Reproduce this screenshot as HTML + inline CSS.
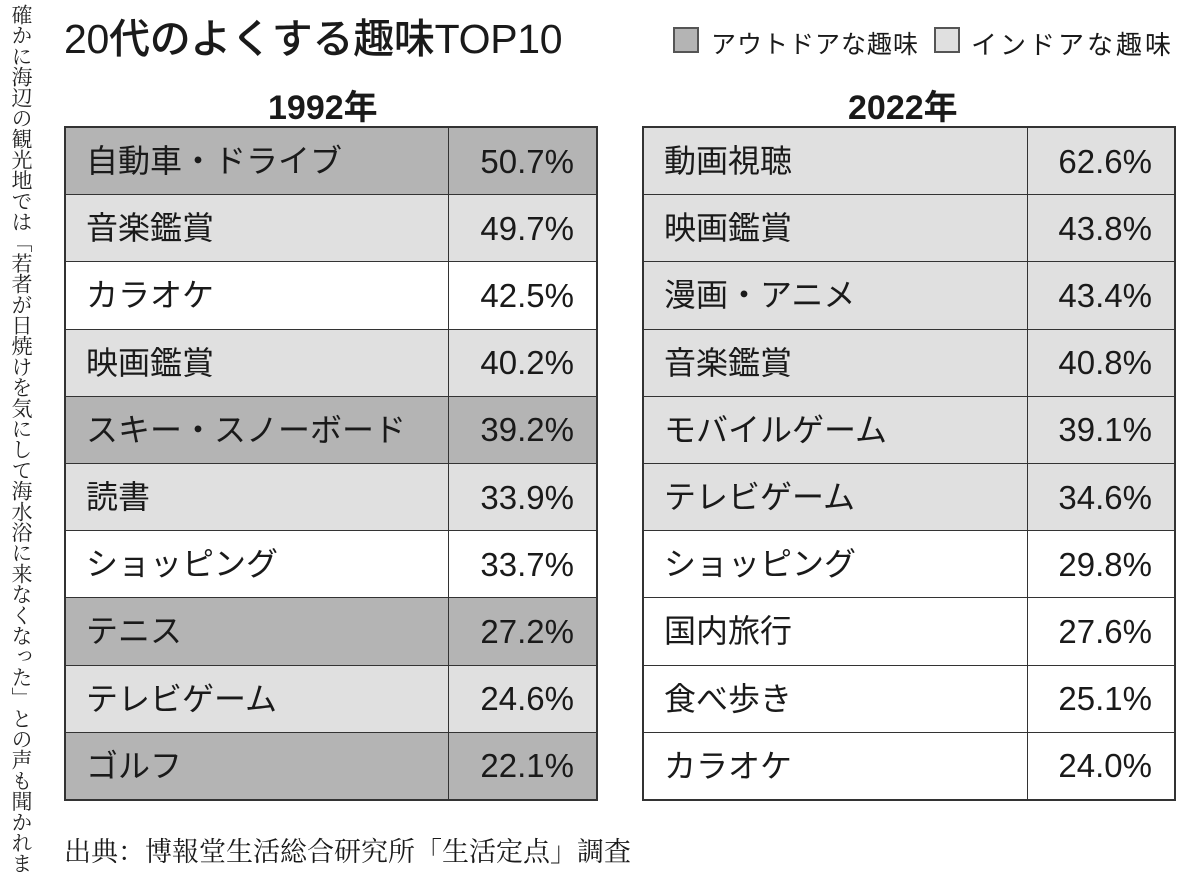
<!DOCTYPE html>
<html><head><meta charset="utf-8"><style>
body{margin:0;background:#fff;width:1200px;height:890px;position:relative;overflow:hidden;font-family:"Liberation Sans","Noto Sans CJK JP",sans-serif;color:#1a1a1a}
.a{position:absolute;white-space:nowrap}
.vt{position:absolute;left:9px;top:4px;writing-mode:vertical-rl;font-family:"Liberation Serif","Noto Serif CJK SC",serif;font-size:21px;line-height:24px;letter-spacing:-0.3px;color:#222}
table{position:absolute;border-collapse:collapse;border:2px solid #333}
td{border:1.5px solid #333;height:66.2px;font-size:32px;padding:0;line-height:1}
td.n{padding-left:20px}
td.p{text-align:right;padding-right:22px;font-size:33px}
.d td{background:#b4b4b4}.l td{background:#e0e0e0}.w td{background:#fff}
.box{position:absolute;width:22px;height:22px;border:2px solid #555}
</style></head><body>
<div class="vt">確かに海辺の観光地では「若者が日焼けを気にして海水浴に来なくなった」との声も聞かれま</div>
<div class="a" style="left:64px;top:5px;font-size:41px;font-weight:500;letter-spacing:-0.3px">20代のよくする趣味TOP10</div>
<div class="box" style="left:673px;top:27px;background:#b4b4b4"></div>
<div class="a" style="left:711px;top:25px;font-size:25px;letter-spacing:1px">アウトドアな趣味</div>
<div class="box" style="left:934px;top:27px;background:#e0e0e0"></div>
<div class="a" style="left:971px;top:25px;font-size:26px;letter-spacing:3px">インドアな趣味</div>
<div class="a" style="left:268px;top:80px;font-size:34px;font-weight:bold">1992年</div>
<div class="a" style="left:848px;top:80px;font-size:34px;font-weight:bold">2022年</div>
<table style="left:64px;top:126px;width:534px">
<colgroup><col style="width:383px"><col></colgroup>
<tr class="d"><td class="n">自動車・ドライブ</td><td class="p">50.7%</td></tr>
<tr class="l"><td class="n">音楽鑑賞</td><td class="p">49.7%</td></tr>
<tr class="w"><td class="n">カラオケ</td><td class="p">42.5%</td></tr>
<tr class="l"><td class="n">映画鑑賞</td><td class="p">40.2%</td></tr>
<tr class="d"><td class="n">スキー・スノーボード</td><td class="p">39.2%</td></tr>
<tr class="l"><td class="n">読書</td><td class="p">33.9%</td></tr>
<tr class="w"><td class="n">ショッピング</td><td class="p">33.7%</td></tr>
<tr class="d"><td class="n">テニス</td><td class="p">27.2%</td></tr>
<tr class="l"><td class="n">テレビゲーム</td><td class="p">24.6%</td></tr>
<tr class="d"><td class="n">ゴルフ</td><td class="p">22.1%</td></tr>
</table>
<table style="left:642px;top:126px;width:534px">
<colgroup><col style="width:384px"><col></colgroup>
<tr class="l"><td class="n">動画視聴</td><td class="p">62.6%</td></tr>
<tr class="l"><td class="n">映画鑑賞</td><td class="p">43.8%</td></tr>
<tr class="l"><td class="n">漫画・アニメ</td><td class="p">43.4%</td></tr>
<tr class="l"><td class="n">音楽鑑賞</td><td class="p">40.8%</td></tr>
<tr class="l"><td class="n">モバイルゲーム</td><td class="p">39.1%</td></tr>
<tr class="l"><td class="n">テレビゲーム</td><td class="p">34.6%</td></tr>
<tr class="w"><td class="n">ショッピング</td><td class="p">29.8%</td></tr>
<tr class="w"><td class="n">国内旅行</td><td class="p">27.6%</td></tr>
<tr class="w"><td class="n">食べ歩き</td><td class="p">25.1%</td></tr>
<tr class="w"><td class="n">カラオケ</td><td class="p">24.0%</td></tr>
</table>
<div class="a" style="left:64px;top:830px;font-size:27px;font-family:'Liberation Serif','Noto Serif CJK SC',serif">出典：博報堂生活総合研究所「生活定点」調査</div>
</body></html>
